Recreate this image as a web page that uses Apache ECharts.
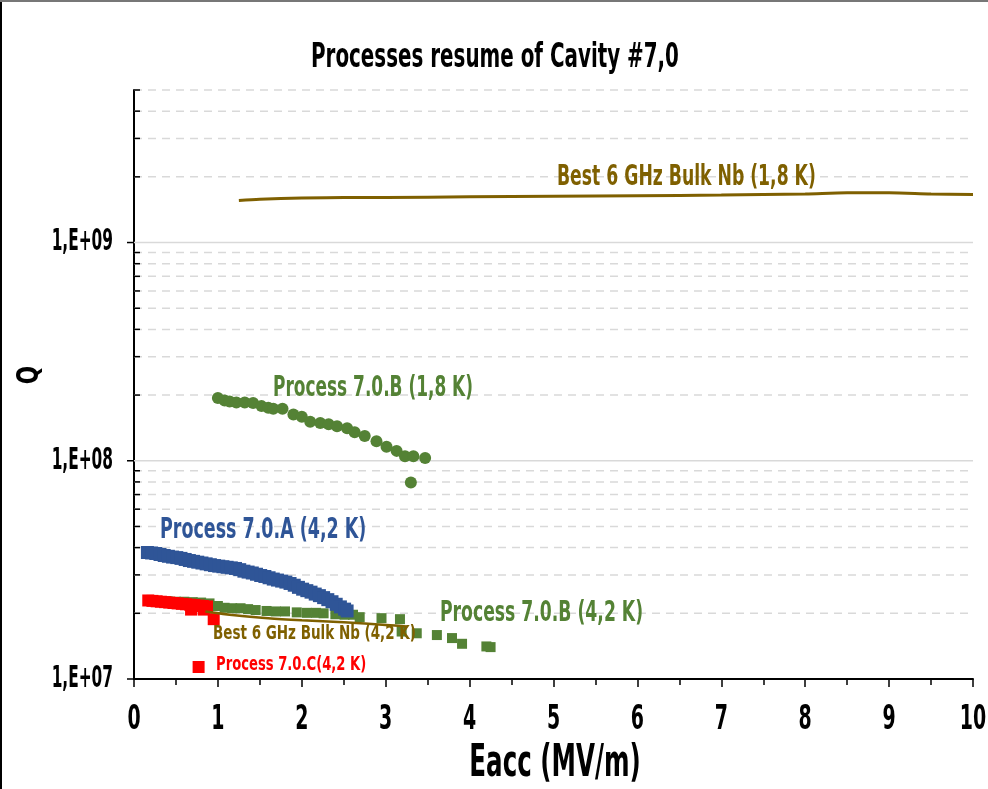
<!DOCTYPE html>
<html>
<head>
<meta charset="utf-8">
<script src="https://cdn.jsdelivr.net/npm/echarts@6/dist/echarts.min.js"></script>
<style>
html,body{margin:0;padding:0;background:#fff;}
#main{width:988px;height:789px;}
</style>
</head>
<body>
<div id="main"></div>
<script>
// ---- data ----
var best18E = [1.25, 1.5, 2.0, 2.5, 3.0, 4.0, 5.0, 6.0, 7.0, 8.0, 8.5, 9.0, 9.5, 10.0];
var best18Q = [1.56e9, 1.58e9, 1.60e9, 1.61e9, 1.61e9, 1.62e9, 1.63e9, 1.64e9, 1.65e9, 1.67e9, 1.69e9, 1.69e9, 1.67e9, 1.66e9];

var best42E = [0.85, 1.2, 1.6, 2.0, 2.5, 3.0, 3.25];
var best42Q = [2.04e7, 1.96e7, 1.90e7, 1.86e7, 1.82e7, 1.77e7, 1.74e7];

var p70B18E = [1.00, 1.08, 1.14, 1.22, 1.32, 1.42, 1.52, 1.60, 1.66, 1.77, 1.90, 2.00, 2.10, 2.22, 2.32, 2.42, 2.54, 2.63, 2.75, 2.89, 3.01, 3.13, 3.23, 3.33, 3.47, 3.30];
var p70B18Q = [1.94e8, 1.89e8, 1.87e8, 1.85e8, 1.85e8, 1.84e8, 1.78e8, 1.75e8, 1.73e8, 1.73e8, 1.63e8, 1.59e8, 1.51e8, 1.49e8, 1.47e8, 1.44e8, 1.41e8, 1.35e8, 1.30e8, 1.23e8, 1.16e8, 1.11e8, 1.05e8, 1.05e8, 1.03e8, 7.95e7];

var p70AE = [0.16, 0.21, 0.26, 0.31, 0.36, 0.41, 0.46, 0.51, 0.56, 0.61, 0.66, 0.71, 0.76, 0.81, 0.86, 0.91, 0.96, 1.01, 1.06, 1.11, 1.16, 1.21, 1.26, 1.31, 1.36, 1.41, 1.46, 1.51, 1.56, 1.61, 1.66, 1.71, 1.76, 1.81, 1.86, 1.91, 1.96, 2.01, 2.06, 2.11, 2.16, 2.21, 2.26, 2.31, 2.36, 2.41, 2.46, 2.51, 2.54];
var p70AQ = [3.80e7, 3.78e7, 3.76e7, 3.72e7, 3.68e7, 3.65e7, 3.62e7, 3.60e7, 3.57e7, 3.53e7, 3.49e7, 3.46e7, 3.43e7, 3.40e7, 3.37e7, 3.34e7, 3.31e7, 3.29e7, 3.27e7, 3.25e7, 3.23e7, 3.21e7, 3.17e7, 3.12e7, 3.09e7, 3.06e7, 3.02e7, 2.98e7, 2.95e7, 2.91e7, 2.87e7, 2.84e7, 2.81e7, 2.78e7, 2.74e7, 2.69e7, 2.63e7, 2.58e7, 2.54e7, 2.50e7, 2.45e7, 2.41e7, 2.36e7, 2.31e7, 2.26e7, 2.20e7, 2.14e7, 2.09e7, 2.05e7];

var p70B42E = [0.20, 0.30, 0.40, 0.50, 0.60, 0.70, 0.80, 0.90, 1.00, 1.08, 1.17, 1.27, 1.36, 1.45, 1.58, 1.69, 1.80, 1.94, 2.06, 2.17, 2.26, 2.40, 2.51, 2.61, 2.69, 2.95, 3.17, 3.19, 3.37, 3.61, 3.79, 3.91, 4.20, 4.25];
var p70B42Q = [2.28e7, 2.27e7, 2.27e7, 2.26e7, 2.26e7, 2.25e7, 2.24e7, 2.22e7, 2.16e7, 2.12e7, 2.11e7, 2.11e7, 2.09e7, 2.07e7, 2.05e7, 2.04e7, 2.04e7, 2.02e7, 2.01e7, 2.01e7, 2.00e7, 1.98e7, 1.97e7, 1.97e7, 1.92e7, 1.90e7, 1.88e7, 1.65e7, 1.62e7, 1.59e7, 1.54e7, 1.45e7, 1.41e7, 1.40e7];

var p70CE = [0.17, 0.22, 0.27, 0.32, 0.37, 0.42, 0.47, 0.52, 0.57, 0.62, 0.67, 0.72, 0.77, 0.82, 0.87, 0.68, 0.83, 0.95, 0.77];
var p70CQ = [2.29e7, 2.28e7, 2.27e7, 2.26e7, 2.25e7, 2.24e7, 2.23e7, 2.22e7, 2.21e7, 2.20e7, 2.19e7, 2.18e7, 2.17e7, 2.16e7, 2.15e7, 2.08e7, 2.08e7, 1.88e7, 1.135e7];

var xTickLabels = ['0', '1', '2', '3', '4', '5', '6', '7', '8', '9', '10'];
var xTickValues = [0, 1, 2, 3, 4, 5, 6, 7, 8, 9, 10];
var yTickLabels = ['1,E+07', '1,E+08', '1,E+09'];
var yMajor = [1e7, 1e8, 1e9];
var yMinor = [2e7, 3e7, 4e7, 5e7, 6e7, 7e7, 8e7, 9e7, 2e8, 3e8, 4e8, 5e8, 6e8, 7e8, 8e8, 9e8, 2e9, 3e9, 4e9, 5e9];

function zip(a, b) { return a.map(function (v, i) { return [v, b[i]]; }); }

var FONT = "'DejaVu Sans Condensed', 'DejaVu Sans', sans-serif";
var BROWN = '#7F6000', GREEN = '#548235', BLUE = '#2F5597', RED = '#FF0000';

var chart = echarts.init(document.getElementById('main'), null, {renderer: 'canvas'});

function gridItem(color, dash) {
  return function (params, api) {
    var v = api.value(1);
    var p1 = api.coord([0, v]);
    var p2 = api.coord([10, v]);
    return {type: 'line', shape: {x1: p1[0], y1: p1[1], x2: p2[0], y2: p2[1]},
      style: {stroke: color, lineWidth: 1.5, lineDash: dash}};
  };
}
function tickItem(outside) {
  return function (params, api) {
    var v = api.value(1);
    var p = api.coord([0, v]);
    var x2 = outside ? p[0] - 7 : p[0] + 6;
    return {type: 'line', shape: {x1: p[0], y1: p[1], x2: x2, y2: p[1]},
      style: {stroke: '#000', lineWidth: 1.5}};
  };
}
function xLabelItem(params, api) {
  var p = api.coord([api.value(0), 1e7]);
  return {type: 'text', x: p[0], y: p[1] + 41, scaleX: 0.62,
    style: {text: xTickLabels[params.dataIndex], font: 'bold 34px ' + FONT, fill: '#000',
      align: 'center', verticalAlign: 'middle'}};
}
function yLabelItem(params, api) {
  var p = api.coord([0, api.value(1)]);
  return {type: 'text', x: p[0] - 21, y: p[1], scaleX: 0.57,
    style: {text: yTickLabels[params.dataIndex], font: 'bold 30px ' + FONT, fill: '#000',
      align: 'right', verticalAlign: 'middle'}};
}

function label(txt, x, y, size, sx, color) {
  return {type: 'text', x: x, y: y, scaleX: sx, z: 10,
    style: {text: txt, fill: color, font: 'bold ' + size + 'px ' + FONT, verticalAlign: 'middle'}};
}

var option = {
  backgroundColor: '#fff',
  animation: false,
  grid: {left: 134, right: 15, top: 90, bottom: 110, containLabel: false, outerBoundsMode: 'none'},
  xAxis: {
    type: 'value', min: 0, max: 10, interval: 1,
    axisLine: {show: true, lineStyle: {color: '#000', width: 2}},
    axisTick: {show: true, length: 8, lineStyle: {color: '#000', width: 1.5}},
    minorTick: {show: true, splitNumber: 2, length: 6, lineStyle: {color: '#000', width: 1.5}},
    splitLine: {show: false},
    axisLabel: {show: false}
  },
  yAxis: {
    type: 'log', logBase: 10, min: 1e7, max: 5e9,
    axisLine: {show: true, onZero: false, lineStyle: {color: '#000', width: 2}},
    axisTick: {show: false},
    splitLine: {show: false},
    axisLabel: {show: false}
  },
  series: [
    {type: 'custom', silent: true, z: 1, clip: false, renderItem: gridItem('#D9D9D9', [8, 6]),
      data: yMinor.map(function (v) { return [0, v]; })},
    {type: 'custom', silent: true, z: 1, clip: false, renderItem: gridItem('#D9D9D9', null),
      data: yMajor.slice(1).map(function (v) { return [0, v]; })},
    {type: 'custom', silent: true, z: 5, clip: false, renderItem: tickItem(false),
      data: yMinor.map(function (v) { return [0, v]; })},
    {type: 'custom', silent: true, z: 5, clip: false, renderItem: tickItem(true),
      data: yMajor.map(function (v) { return [0, v]; })},
    {type: 'custom', silent: true, z: 5, clip: false, renderItem: xLabelItem,
      data: xTickValues.map(function (v) { return [v, 1e7]; })},
    {type: 'custom', silent: true, z: 5, clip: false, renderItem: yLabelItem,
      data: yMajor.map(function (v) { return [0, v]; })},
    {name: 'Process 7.0.B (4,2 K)', type: 'scatter', symbol: 'rect', symbolSize: 10, z: 3,
      itemStyle: {color: GREEN, opacity: 1}, data: zip(p70B42E, p70B42Q)},
    {name: 'Process 7.0.A (4,2 K)', type: 'scatter', symbol: 'rect', symbolSize: 13, z: 4,
      itemStyle: {color: BLUE, opacity: 1}, data: zip(p70AE, p70AQ)},
    {name: 'Process 7.0.C (4,2 K)', type: 'scatter', symbol: 'rect', symbolSize: 12, z: 4,
      itemStyle: {color: RED, opacity: 1}, data: zip(p70CE, p70CQ)},
    {name: 'Process 7.0.B (1,8 K)', type: 'scatter', symbol: 'circle', symbolSize: 12, z: 3,
      itemStyle: {color: GREEN, opacity: 1}, data: zip(p70B18E, p70B18Q)},
    {name: 'Best 6 GHz Bulk Nb (1,8 K)', type: 'line', smooth: 0.3, showSymbol: false, z: 4,
      lineStyle: {color: BROWN, width: 3}, data: zip(best18E, best18Q)},
    {name: 'Best 6 GHz Bulk Nb (4,2 K)', type: 'line', smooth: 0.3, showSymbol: false, z: 5,
      lineStyle: {color: BROWN, width: 2.5}, data: zip(best42E, best42Q)}
  ],
  graphic: [
    {type: 'line', shape: {x1: 1, y1: 0, x2: 1, y2: 789}, style: {stroke: '#000', lineWidth: 2}},
    {type: 'line', shape: {x1: 0, y1: 1, x2: 988, y2: 1}, style: {stroke: '#777', lineWidth: 2}},
    {type: 'text', x: 495, y: 58, scaleX: 0.65,
      style: {text: 'Processes resume of Cavity #7,0', fill: '#000', font: 'bold 34px ' + FONT,
        align: 'center', verticalAlign: 'middle'}},
    {type: 'text', x: 555, y: 765, scaleX: 0.62,
      style: {text: 'Eacc (MV/m)', fill: '#000', font: 'bold 44px ' + FONT,
        align: 'center', verticalAlign: 'middle'}},
    {type: 'text', x: 30, y: 375, rotation: Math.PI / 2, scaleX: 0.8,
      style: {text: 'Q', fill: '#000', font: 'bold 30px ' + FONT,
        align: 'center', verticalAlign: 'middle'}},
    label('Best 6 GHz Bulk Nb (1,8 K)', 557, 177, 29, 0.66, BROWN),
    label('Process 7.0.B (1,8 K)', 273, 388, 29, 0.65, GREEN),
    label('Process 7.0.A (4,2 K)', 160, 530, 29, 0.67, BLUE),
    label('Process 7.0.B (4,2 K)', 440, 613, 29, 0.66, GREEN),
    label('Best 6 GHz Bulk Nb (4,2 K)', 213, 634, 19, 0.79, BROWN),
    label('Process 7.0.C(4,2 K)', 216, 665, 19, 0.77, RED)
  ]
};
chart.setOption(option);
</script>
</body>
</html>
